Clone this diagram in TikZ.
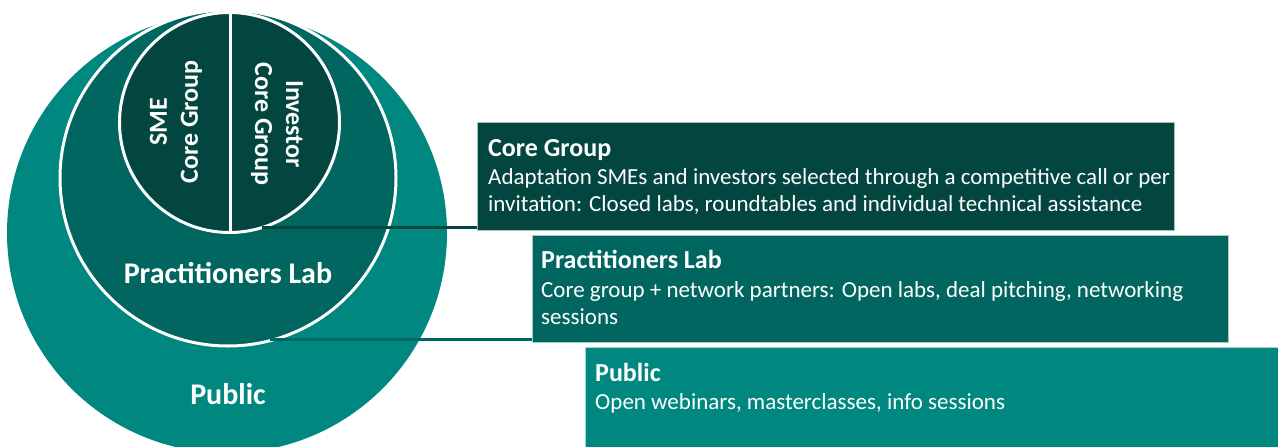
\documentclass[tikz,border=0pt]{standalone}
\usepackage{fontspec}
\setmainfont{Carlito}
\definecolor{cdark}{HTML}{02463F}
\definecolor{cmid}{HTML}{00665F}
\definecolor{cpub}{HTML}{00877F}
\begin{document}
\begin{tikzpicture}[x=1pt,y=-1pt,
  ring/.style={draw=white,line width=3pt},
  boxstyle/.style={draw=white!65!#1,line width=0.8pt,fill=#1,anchor=north west,inner sep=0pt},
  btitle/.style={anchor=base west,inner sep=0pt,text=white,font=\fontsize{26}{30}\selectfont\bfseries},
  bbody/.style={anchor=base west,inner sep=0pt,text=white,align=left,font=\fontsize{23}{27}\selectfont},
  ctext/.style={text=white,font=\fontsize{30}{34}\selectfont\bfseries,inner sep=0pt},
  rtext/.style={text=white,font=\fontsize{26}{31}\selectfont\bfseries,align=center,inner sep=0pt},
  link/.style={line width=3pt,draw=#1}]
\useasboundingbox (0,0) rectangle (1278,447);
\clip (0,0) rectangle (1278,447);
% circles
\fill[cpub] (227,233) circle[radius=220];
\draw[ring,fill=cmid] (228,178) circle[radius=168];
\draw[ring,fill=cdark] (229.5,122.5) circle[radius=110];
\draw[white,line width=3pt] (230,12.5) -- (230,231);
% circle texts
\node[rtext,rotate=90] (sme) at (176,122) {SME\\Core Group};
\node[rtext,rotate=-90] (inv) at (277,124) {Investor\\Core Group};
\node[ctext] (plab) at (228,273) {Practitioners Lab};
\node[ctext] (pub) at (228,394) {Public};
% boxes
\node[boxstyle=cdark,minimum width=697,minimum height=108] (cg) at (477,122) {};
\node[boxstyle=cmid,minimum width=696,minimum height=107] (pl) at (532,235) {};
\node[boxstyle=cpub,minimum width=700,minimum height=110] (pb) at (585,347) {};
% box texts (multi-line nodes: base = last line's baseline)
\node[btitle] (cgt) at ([xshift=11,yshift=-34]cg.north west) {Core Group};
\node[bbody] (cgb) at ([xshift=11,yshift=-89]cg.north west) {Adaptation SMEs and investors selected through a competitive call or per\\invitation: Closed labs, roundtables and individual technical assistance};
\node[btitle] (plt) at ([xshift=9,yshift=-33]pl.north west) {Practitioners Lab};
\node[bbody] (plb) at ([xshift=9,yshift=-89]pl.north west) {Core group + network partners: Open labs, deal pitching, networking\\sessions};
\node[btitle] (pbt) at ([xshift=10,yshift=-34]pb.north west) {Public};
\node[bbody] (pbb) at ([xshift=10,yshift=-62]pb.north west) {Open webinars, masterclasses, info sessions};
% connectors
\coordinate (c1) at (262,227);
\coordinate (c2) at (270,339);
\draw[link=cdark] (c1) -- (cg.south west |- c1);
\draw[link=cmid] (c2) -- (pl.south west |- c2);
\end{tikzpicture}
\end{document}
